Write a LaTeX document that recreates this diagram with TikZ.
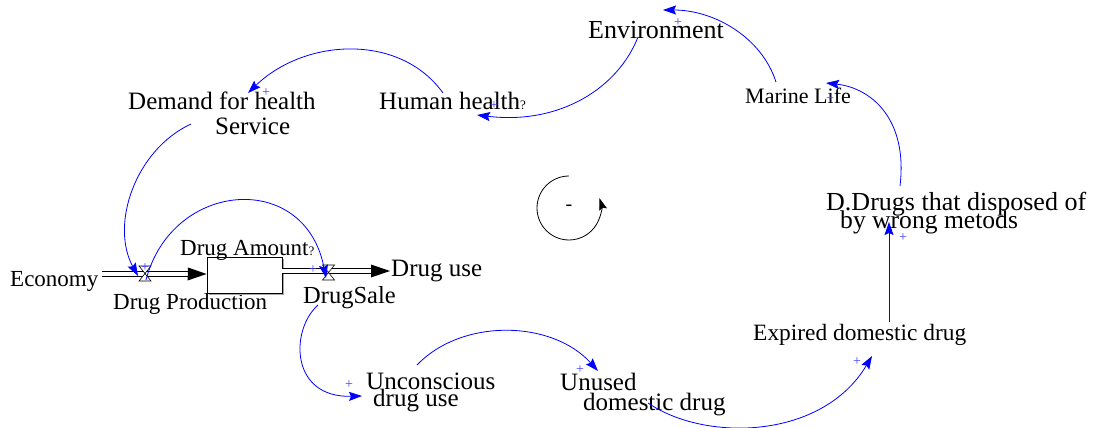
\documentclass[tikz,border=0pt]{standalone}
\usepackage{fontspec}
\setmainfont{Liberation Serif}
\usetikzlibrary{arrows.meta}
\begin{document}
\begin{tikzpicture}[x=1pt,y=-1pt,
  lbl/.style={anchor=base west, inner sep=0pt, font=\fontsize{25}{27}\selectfont},
  lbls/.style={lbl, font=\fontsize{23}{25}\selectfont},
  link/.style={blue, line width=0.8pt, -{Stealth[length=13pt,width=9pt,inset=2pt]}},
  pls/.style={text=blue!75, font=\fontsize{14}{14}\selectfont, inner sep=0pt},
  pipe/.style={double, double distance=3.6pt, line width=0.8pt},
  valve/.style={draw=black, fill=white, line width=0.6pt},
  pipehead/.style={fill=black}]
\useasboundingbox (0,0) rectangle (1096,428);

% ---- labels ----
\node[lbls] (econ) at (10,286) {Economy};
\node[lbls] (prod) at (113,309) {Drug Production};
\node[lbls] (amount) at (180,255) {Drug Amount{\fontsize{13}{13}\selectfont ?}};
\node[lbl, font=\fontsize{24.5}{26}\selectfont] (sale) at (303,303) {DrugSale};
\node[lbl] (use) at (391,276) {Drug use};
\node[lbl] (dem1) at (128,110) {Demand for health};
\node[lbl] (dem2) at (215,134) {Service};
\node[lbl] (hh) at (379,110) {Human health{\fontsize{13}{13}\selectfont ?}};
\node[lbl, font=\fontsize{26}{28}\selectfont] (env) at (588,39) {Environment};
\node[lbl, font=\fontsize{22}{24}\selectfont] (mar) at (745,103) {Marine Life};
\node[lbl, font=\fontsize{26}{28}\selectfont] (dd1) at (826,210) {D.Drugs that disposed of};
\node[lbl, font=\fontsize{25.6}{28}\selectfont] (dd2) at (840,228) {by wrong metods};
\node[lbl, font=\fontsize{23.4}{25}\selectfont] (exp) at (753,340) {Expired domestic drug};
\node[lbl] (unc1) at (366,389) {Unconscious};
\node[lbl] (unc2) at (373,406) {drug use};
\node[lbl] (unu1) at (560,390) {Unused};
\node[lbl] (unu2) at (583,410) {domestic drug};

% ---- stock and flows ----
\draw[gray!70, line width=1pt] (208.5,294.5) -- (283.5,294.5) -- (283.5,258.5);
\node[draw, line width=0.8pt, minimum width=75pt, minimum height=36pt, inner sep=0pt] (stock) at (244.5,275) {};
\coordinate (p1s) at (102,274);
\coordinate (p1h) at (188,274);
\coordinate (p2s) at (stock.east |- 0,271);
\coordinate (p2h) at (371,271);
\draw[pipe] (p1s) -- (p1h);
\fill[pipehead] (p1h) ++(0,-6.5) -- (stock.west |- p1h) -- ++(-19,6.5) -- cycle;
\draw[pipe] (p2s) -- (p2h);
\fill[pipehead] (p2h) ++(0,-6.5) -- (390,271) -- ++(-19,6.5) -- cycle;
\coordinate (v1) at (145,273.5);
\coordinate (v2) at (328.5,272.5);
\draw[valve] (v1) ++(-6,-7.5) -- ++(12,0) -- ++(-12,15) -- ++(12,0) -- cycle;
\draw[valve] (v2) ++(-6,-7.5) -- ++(12,0) -- ++(-12,15) -- ++(12,0) -- cycle;

% ---- link end points ----
\coordinate (a1s) at (776,82);   \coordinate (a1e) at (663,10);
\coordinate (a2s) at (638,37);   \coordinate (a2e) at (477,115);
\coordinate (a3s) at (443,93);   \coordinate (a3e) at (248,93);
\coordinate (a4s) at (191,124);  \coordinate (a4e) at (138,276);
\coordinate (a5s) at (146,280);  \coordinate (a5e) at (326,278);
\coordinate (a6s) at (318,305);  \coordinate (a6e) at (362,396);
\coordinate (a7s) at (417,365);  \coordinate (a7e) at (598,371);
\coordinate (a8s) at (648,403);  \coordinate (a8e) at (872,356);
\coordinate (a9s) at (889,322);  \coordinate (a9e) at (889,222);
\coordinate (a10s) at (900,186); \coordinate (a10e) at (826,83);

% ---- causal links ----
\draw[link] (a1s) .. controls (762,38) and (715,10) .. (a1e);
\draw[link] (a2s) .. controls (618,88) and (560,125) .. (a2e);
\draw[link] (a3s) .. controls (400,33) and (305,38) .. (a3e);
\draw[link] (a4s) .. controls (135,150) and (110,225) .. (a4e);
\draw[link] (a5s) .. controls (172,180) and (305,170) .. (a5e);
\draw[link] (a6s) .. controls (290,330) and (290,398) .. (a6e);
\draw[link] (a7s) .. controls (462,318) and (552,320) .. (a7e);
\draw[link] (a8s) .. controls (705,442) and (822,440) .. (a8e);
\draw[link] (a9s) -- (a9e);
\draw[link] (a10s) .. controls (908,120) and (872,88) .. (a10e);

% ---- polarities ----
\node[pls] (s1) at (678,23) {+};
\node[pls] (s2) at (494,106) {+};
\node[pls] (s3) at (266,93) {+};
\node[pls] (s4) at (145,268) {+};
\node[pls] (s5) at (313,270) {+};
\node[pls] (s6) at (349,385) {+};
\node[pls] (s7) at (580,370) {+};
\node[pls] (s8) at (857,362) {+};
\node[pls] (s9) at (903,238) {+};
\node[pls] (s10) at (830,99) {+};

% ---- loop symbol ----
\coordinate (loopc) at (569,208);
\draw[line width=0.8pt, -{Stealth[length=12pt,width=8pt,inset=2pt]}] (569,176) arc[start angle=-90, end angle=-378, radius=32];
\node[font=\fontsize{20}{20}\selectfont, inner sep=0pt] (loopsign) at (loopc) {-};
\end{tikzpicture}
\end{document}
